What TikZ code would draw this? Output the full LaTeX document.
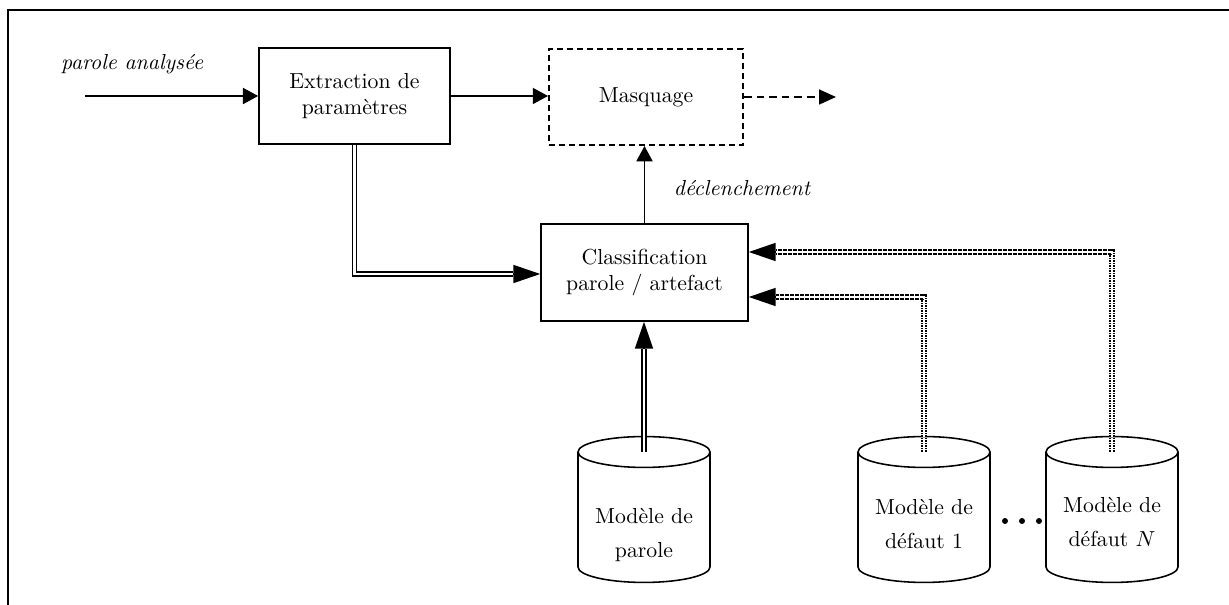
\documentclass[tikz,border=0pt]{standalone}
\usetikzlibrary{arrows.meta,calc}
\newcommand{\datacyl}[2]{% #1 = name of the top centre, #2 = x of the axis
  \coordinate (#1) at (#2,452);
  \draw[thinline] ($(#1)+(-66,0)$) -- ($(#1)+(-66,115)$)
    arc[start angle=180,end angle=360,x radius=30.36pt,y radius=7.1pt]
    -- ($(#1)+(66,0)$);
  \draw[thinline] (#1) ellipse[x radius=30.36pt,y radius=7.1pt];
}
\begin{document}
\begin{tikzpicture}[x=0.46pt,y=-0.46pt,
  thinline/.style={line width=0.72pt},
  smalltip/.style={-{Triangle[length=7pt,width=7.4pt]}},
  bigtip/.style={-{Triangle[length=12.4pt,width=8.3pt]}},
  procbox/.style={draw,line width=0.72pt,inner sep=0pt,align=center},
  dbl/.style={line width=0.72pt,double distance=1.1pt},
  dotdbl/.style={line width=0.7pt,double distance=0.95pt,dash pattern=on 0.7pt off 0.45pt},
  label/.style={font=\itshape}]
\useasboundingbox (0,0) rectangle (1229,605);

% frame
\draw[line width=1.1pt] (8,605) -- (8,10) -- (1229,10);

% processing blocks
\node[procbox,minimum width=87.9pt,minimum height=44.2pt] (ext) at (354.5,96)
  {Extraction de\\paramètres};
\node[procbox,dash pattern=on 2.8pt off 1.8pt,line width=0.95pt,
  minimum width=89.2pt,minimum height=44.2pt] (mask) at (646,97) {Masquage};
\node[procbox,minimum width=95.2pt,minimum height=44.6pt] (cls) at (644.5,272.5)
  {Classification\\parole / artefact};

% labels
\node[label] (inlab) at (132,64) {parole analysée};
\node[label] (trig) at (742,188) {déclenchement};

% model databases
\datacyl{cP}{644}
\datacyl{c1}{924}
\datacyl{cN}{1112}
\node[align=center] (mP) at (644,535) {Modèle de\\[3.6pt]parole};
\node[align=center] (m1) at (924,524) {Modèle de\\[3.6pt]défaut 1};
\node[align=center] (mN) at (1112,522) {Modèle de\\[3.6pt]défaut $N$};
\foreach \x in {1005,1022,1039} \fill (\x,521) circle[radius=1.38pt];

% signal path
\coordinate (in) at (85,96);
\coordinate (out) at (836,97);
\draw[thinline,smalltip] (in) -- (ext.west);
\draw[thinline,smalltip] (ext.east) -- (ext.east -| mask.west);
\draw[thinline,dash pattern=on 3.5pt off 2.3pt,-{Triangle[length=7.8pt,width=6.9pt]}]
  (mask.east) -- (out);
\draw[thinline,smalltip] (cls.north) -- (cls.north |- mask.south);

% parameters to the classifier
\coordinate (pin) at ($(cls.west)+(0,1.5)$);
\draw[dbl] (ext.south) |- ($(pin)+(-27,0)$);
\draw[thinline,bigtip] ($(pin)+(-27,0)$) -- (pin);

% speech model to the classifier
\coordinate (pup) at (cP |- cls.south);
\draw[dbl] (cP) -- ($(pup)+(0,27)$);
\draw[thinline,bigtip] ($(pup)+(0,27)$) -- (pup);

% fault models to the classifier
\coordinate (dN) at ($(cls.east)+(0,-20.5)$);
\coordinate (d1) at ($(cls.east)+(0,24.5)$);
\draw[dotdbl] (cN) |- ($(dN)+(27,0)$);
\draw[thinline,bigtip] ($(dN)+(27,0)$) -- (dN);
\draw[dotdbl] (c1) |- ($(d1)+(27,0)$);
\draw[thinline,bigtip] ($(d1)+(27,0)$) -- (d1);
\end{tikzpicture}
\end{document}
